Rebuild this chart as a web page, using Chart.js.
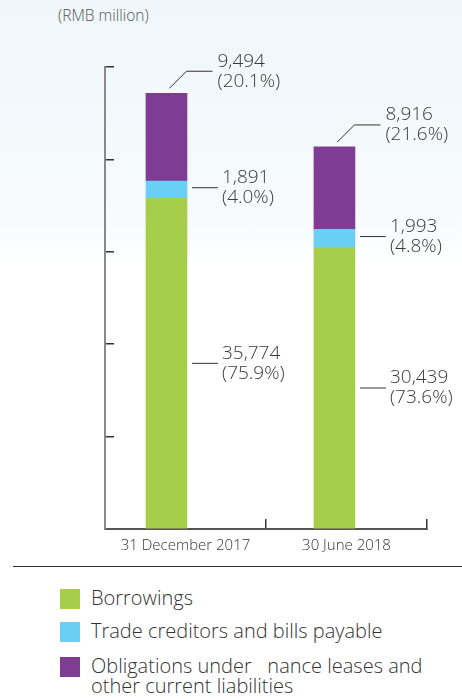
<!DOCTYPE html>
<html>
<head>
<meta charset="utf-8">
<script src="https://cdn.jsdelivr.net/npm/chart.js@4"></script>
<style>
  body { margin: 0; width: 462px; height: 699px; position: relative; overflow: hidden;
    font-family: "Open Sans", sans-serif; font-weight: 300; color: #333;
    background: linear-gradient(to bottom, #eff7fa 0px, #f6fafd 200px, #fcfeff 255px, #ffffff 262px, #ffffff 699px); }
  #wrap { position: absolute; left: 0; top: 0; width: 462px; height: 560px; }
  .unit { position: absolute; left: 58px; top: 4px; font-size: 15.5px; color: #555; }
  .rule { position: absolute; left: 13px; top: 566px; width: 449px; height: 0; border-top: 1.5px solid #333; }
  .item { position: absolute; left: 60px; font-size: 20px; line-height: 20px; }
  .item i { position: absolute; left: 0; top: 0; width: 20px; height: 20px; }
  .item span { position: absolute; left: 31px; top: -1px; white-space: nowrap; }
</style>
</head>
<body>
<div class="unit">(RMB million)</div>
<div id="wrap"><canvas id="debt-chart"></canvas></div>
<div class="rule"></div>
<div class="item" style="top:589px"><i style="background:#a6ce4a"></i><span>Borrowings</span></div>
<div class="item" style="top:622px"><i style="background:#6bcff5"></i><span>Trade creditors and bills payable</span></div>
<div class="item" style="top:657px"><i style="background:#7e3c93"></i><span>Obligations under&nbsp;&nbsp;&nbsp;nance leases and<br>other current liabilities</span></div>
<script>
//categories
const periods = ['31 December 2017', '30 June 2018']
//series (RMB million)
const borrowings = [35774, 30439]
const tradeCreditors = [1891, 1993]
const obligations = [9494, 8916]
//shares shown next to the bars
const borrowingsPct = ['75.9%', '73.6%']
const tradePct = ['4.0%', '4.8%']
const obligationsPct = ['20.1%', '21.6%']
//y axis tick values
const yTicks = [0, 10000, 20000, 30000, 40000, 50000]

function points(values) {
  return values.map((v, i) => ({ x: i, y: v }))
}

//leader lines + value labels
const leaderLabels = {
  id: 'leaderLabels',
  afterDatasetsDraw(chart) {
    const ctx = chart.ctx
    const pcts = [borrowingsPct, tradePct, obligationsPct]
    ctx.save()
    ctx.strokeStyle = '#333'
    ctx.lineWidth = 1
    ctx.fillStyle = '#3a3a3a'
    ctx.font = '300 19px "Open Sans"'
    ctx.textBaseline = 'middle'
    chart.data.datasets.forEach((ds, d) => {
      chart.getDatasetMeta(d).data.forEach((bar, i) => {
        const value = ds.data[i].y
        const top = Math.min(bar.y, bar.base)
        const bottom = Math.max(bar.y, bar.base)
        const right = bar.x + bar.width / 2
        let ly, tx
        ctx.beginPath()
        if (d === 2) {
          ly = top - 22
          ctx.moveTo(bar.x + 3, top - 5)
          ctx.lineTo(bar.x + 20, ly)
          ctx.lineTo(bar.x + 46, ly)
          tx = bar.x + 51
        } else {
          ly = (top + bottom) / 2 - (d === 1 ? 2 : 0)
          ctx.moveTo(right + 5, ly)
          ctx.lineTo(right + 31, ly)
          tx = right + 35
        }
        ctx.stroke()
        ctx.fillText(value.toLocaleString('en-US'), tx, ly - 10)
        ctx.fillText('(' + pcts[d][i] + ')', tx, ly + 10)
      })
    })
    ctx.restore()
  }
}

var debtCanvas = document.getElementById('debt-chart')
var debtChart = new Chart(debtCanvas, {
  type: 'bar',
  data: {
    labels: periods,
    datasets: [
      { label: 'Borrowings', xAxisID: 'xb', backgroundColor: '#a6ce4a', data: points(borrowings) },
      { label: 'Trade creditors and bills payable', xAxisID: 'xb', backgroundColor: '#6bcff5', data: points(tradeCreditors) },
      { label: 'Obligations under finance leases and other current liabilities', xAxisID: 'xb', backgroundColor: '#7e3c93', data: points(obligations) }
    ]
  },
  plugins: [leaderLabels],
  options: {
    responsive: true,
    maintainAspectRatio: false,
    animation: false,
    layout: { padding: { left: 105, right: 35, top: 67, bottom: 0 } },
    datasets: { bar: { barThickness: 41 } },
    plugins: { legend: { display: false }, tooltip: { enabled: false } },
    scales: {
      xb: {
        type: 'linear', display: false, stacked: true, offset: false, min: -0.366, max: 1.551
      },
      x: {
        type: 'category',
        offset: true,
        afterFit: s => { s.height = 31 },
        border: { color: '#555', width: 2 },
        grid: { offset: true, drawOnChartArea: false, tickLength: -10, color: '#333', lineWidth: 1.5 },
        ticks: { padding: 18, color: '#333', font: { family: 'Open Sans', size: 15, weight: 300 } }
      },
      y: {
        stacked: true,
        min: 0,
        max: 50000,
        afterFit: s => { s.width = 0 },
        afterBuildTicks: s => { s.ticks = yTicks.map(v => ({ value: v })) },
        border: { color: '#8a8a8a', width: 2 },
        grid: { drawOnChartArea: false, tickLength: -9, color: '#333', lineWidth: 1.5 },
        ticks: { display: false }
      }
    }
  }
})
</script>
</body>
</html>
